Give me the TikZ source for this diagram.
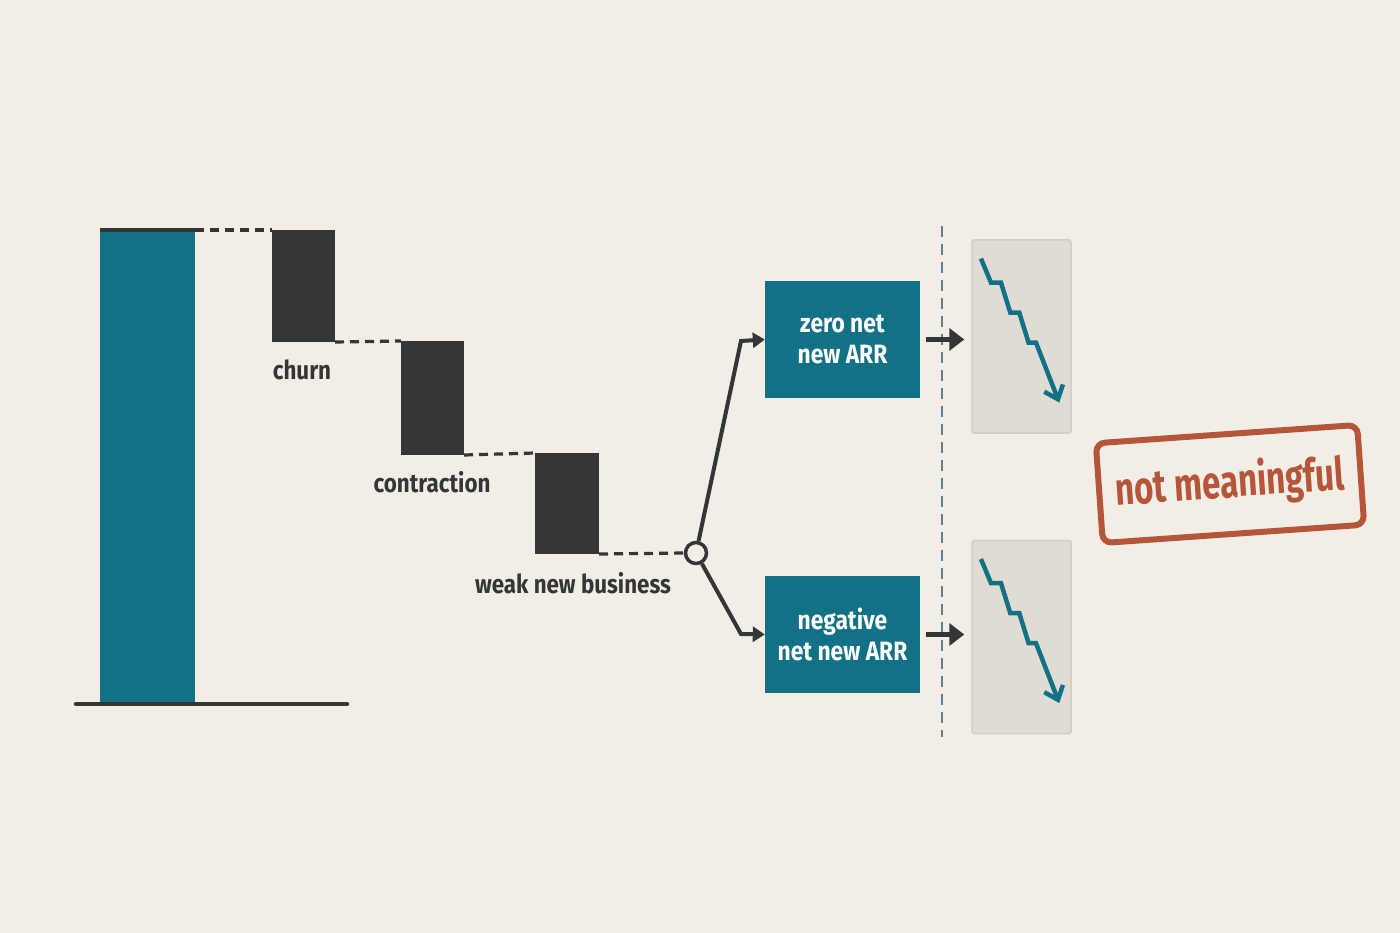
\documentclass[tikz,border=0pt]{standalone}
\usepackage{fontspec}
\setmainfont{Fira Sans}[FakeStretch=0.86]
\newfontfamily\stampfont{Fira Sans}[FakeStretch=0.72]
\usetikzlibrary{arrows.meta}
\definecolor{bgc}{HTML}{F2EEE5}
\definecolor{tealc}{HTML}{137185}
\definecolor{darkc}{HTML}{333537}
\definecolor{panelc}{HTML}{E0DCD3}
\definecolor{panelb}{HTML}{D2CEC6}
\definecolor{stampc}{HTML}{B5553A}
\definecolor{vdash}{HTML}{5E818B}
\tikzset{
  bar/.style={rectangle, inner sep=0pt, outer sep=0pt, draw=none},
  lbl/.style={text=darkc, font=\bfseries\fontsize{26}{30}\selectfont, inner sep=0pt},
  dashc/.style={darkc, line width=3.2pt, dash pattern=on 9pt off 6pt},
  outbox/.style={rectangle, fill=tealc, text=white, minimum width=155pt, minimum height=117pt, inner sep=0pt, align=center, font=\bfseries\fontsize{26.5}{31}\selectfont},
  panel/.style={rectangle, fill=panelc, draw=panelb, line width=1.5pt, rounded corners=2pt, minimum width=99pt, minimum height=193pt, inner sep=0pt},
  branch/.style={darkc, line width=4pt, -{Triangle[length=12pt,width=15pt]}},
  bigarrow/.style={darkc, line width=5.5pt, -{Triangle[length=15pt,width=22pt]}, shorten <=6pt, shorten >=7pt},
  zig/.style={tealc, line width=4.5pt, line join=miter, -{Straight Barb[length=12pt,width=20pt,line width=4.5pt]}},
}
\begin{document}
\begin{tikzpicture}[x=1pt,y=-1pt]
\fill[bgc] (0,0) rectangle (1400,933);
\useasboundingbox (0,0) rectangle (1400,933);

% waterfall bars
\node[bar, fill=tealc, minimum width=95pt, minimum height=474pt] (base) at (147.5,467) {};
\node[bar, fill=darkc, minimum width=63pt, minimum height=112pt] (churn) at (303.5,286) {};
\node[bar, fill=darkc, minimum width=63pt, minimum height=114pt] (contr) at (432.5,398) {};
\node[bar, fill=darkc, minimum width=64pt, minimum height=101pt] (weak) at (567,503.5) {};

\draw[darkc, line width=3.5pt] (base.north west) -- (base.north east);
\coordinate (axl) at (76,704);
\coordinate (axr) at (347,704);
\draw[darkc, line width=4.5pt, line cap=round] (axl) -- (axr);

% labels
\node[lbl] (lchurn) at (302,370) {churn};
\node[lbl] (lcontr) at (432,482) {contraction};
\node[lbl] (lweak) at (573,583) {weak new business};

% dashed connectors
\draw[dashc] (base.north east) -- (churn.north west);
\draw[dashc] (churn.south east) -- (contr.north west);
\draw[dashc] (contr.south east) -- (weak.north west);

% split circle
\node[circle, draw=darkc, line width=3.5pt, fill=bgc, minimum size=21pt, inner sep=0pt] (circ) at (696,553) {};
\draw[dashc] (weak.south east) -- (circ.west);

% outcome boxes
\node[outbox] (zero) at (842.5,339.5) {zero net\\new ARR};
\node[outbox] (neg) at (842.5,634.5) {negative\\net new ARR};

\coordinate (k1) at (741,341);
\coordinate (k2) at (741,634);
\draw[branch] (circ) -- (k1) -- (zero.west);
\draw[branch] (circ) -- (k2) -- (neg.west);

% vertical dashed divider
\coordinate (vt) at (942,226);
\coordinate (vb) at (942,737);
\draw[vdash, line width=2.5pt, dash pattern=on 11pt off 7pt] (vt) -- (vb);

% panels
\node[panel] (p1) at (1021.5,336.5) {};
\node[panel] (p2) at (1021.5,637) {};

\draw[bigarrow] (zero.east) -- (p1.west |- zero.east);
\draw[bigarrow] (neg.east) -- (p2.west |- neg.east);

\foreach \p in {p1,p2}{
  \draw[zig] ([shift={(9.7,19.3)}]\p.north west) -- ([shift={(19.7,43.3)}]\p.north west)
    -- ([shift={(29.7,43.3)}]\p.north west) -- ([shift={(39,73.3)}]\p.north west)
    -- ([shift={(48,73.3)}]\p.north west) -- ([shift={(57.3,103.3)}]\p.north west)
    -- ([shift={(64.7,103.3)}]\p.north west) -- ([shift={(88,163.3)}]\p.north west);
}

% stamp
\node[draw=stampc, line width=6pt, rounded corners=9pt, rotate=4, minimum width=262pt, minimum height=100pt, inner sep=0pt, text=stampc, font=\stampfont\bfseries\fontsize{46}{50}\selectfont] (stamp) at (1230,484) {not meaningful};
\end{tikzpicture}
\end{document}
